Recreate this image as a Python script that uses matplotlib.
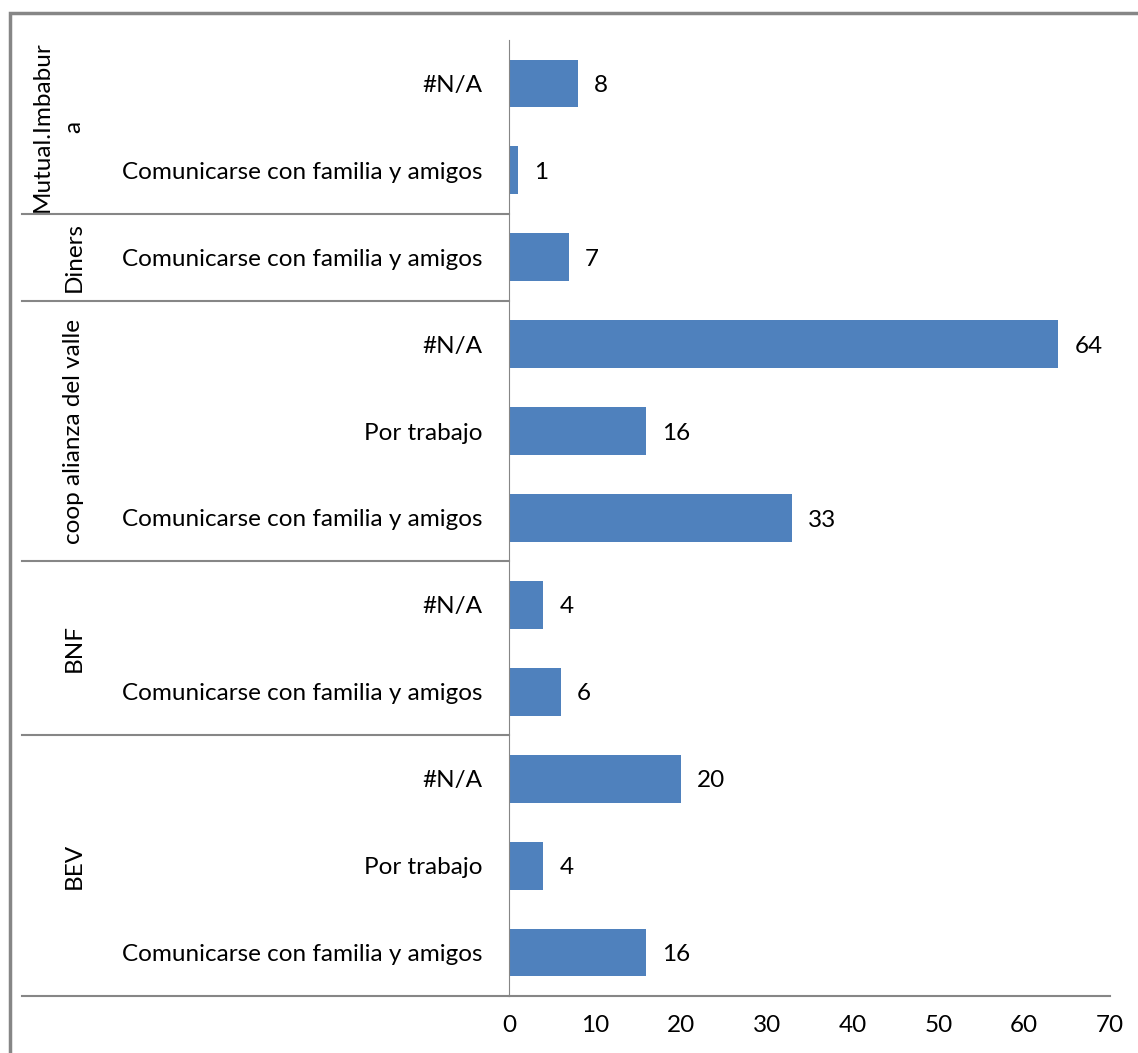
import matplotlib.pyplot as plt
from matplotlib.patches import Rectangle
from matplotlib.lines import Line2D

plt.rcParams['font.family'] = ['Lato', 'DejaVu Sans']

# data, bottom to top
groups = ["BEV", "BNF", "coop alianza del valle", "Diners", "Mutual.Imbabur\na"]
group_sizes = [3, 2, 3, 1, 2]
labels = ["Comunicarse con familia y amigos", "Por trabajo", "#N/A",
          "Comunicarse con familia y amigos", "#N/A",
          "Comunicarse con familia y amigos", "Por trabajo", "#N/A",
          "Comunicarse con familia y amigos",
          "Comunicarse con familia y amigos", "#N/A"]
values = [16, 4, 20, 6, 4, 33, 16, 64, 7, 1, 8]
xticks = [0, 10, 20, 30, 40, 50, 60, 70]

W, H = 1138, 1053
fig = plt.figure(figsize=(W / 100, H / 100), dpi=100)
gray = "#868686"
bar_color = "#4F81BD"
fs = 17.5

# outer chart frame (cut off at right/bottom like the original)
fig.patches.append(Rectangle((10 / W, -0.1), 1.2, (H - 13) / H + 0.1,
                             transform=fig.transFigure, fill=False,
                             edgecolor=gray, linewidth=2.5))

left, right, top, bottom = 509, 1110, 40, 996
ax = fig.add_axes([left / W, (H - bottom) / H, (right - left) / W, (bottom - top) / H])

y = list(range(len(values)))
ax.barh(y, values, height=0.55, color=bar_color)
ax.set_ylim(-0.5, len(values) - 0.5)
ax.set_xlim(0, 70)
ax.set_xticks(xticks)
ax.set_yticks(y)
ax.set_yticklabels(labels)
ax.tick_params(axis='x', length=0, pad=14, labelsize=fs)
ax.tick_params(axis='y', length=0, pad=19, labelsize=fs)

for yi, v in zip(y, values):
    ax.annotate(str(v), (v, yi), xytext=(11.5, -1.5), textcoords='offset points',
                va='center', ha='left', fontsize=fs)

for s in ['top', 'right']:
    ax.spines[s].set_visible(False)
ax.spines['left'].set_color(gray)
ax.spines['bottom'].set_color(gray)
ax.spines['bottom'].set_linewidth(1.5)

# group separators and labels
x_box = (22 - left) / (right - left)
trans = ax.get_yaxis_transform()
start = -0.5
ax.add_line(Line2D([x_box, 0], [start, start], transform=trans, color=gray,
                   linewidth=1.5, clip_on=False))
for i, (g, n) in enumerate(zip(groups, group_sizes)):
    end = start + n
    if i < len(groups) - 1:
        ax.add_line(Line2D([x_box, 0], [end, end], transform=trans, color=gray,
                           linewidth=1.5, clip_on=False))
    xc = 58 if "\n" in g else 74
    ax.text((xc - left) / (right - left), (start + end) / 2, g, transform=trans,
            rotation=90, ha='center', va='center', fontsize=fs,
            multialignment='center', linespacing=1.65)
    start = end

fig.savefig("out.png", dpi=100)
